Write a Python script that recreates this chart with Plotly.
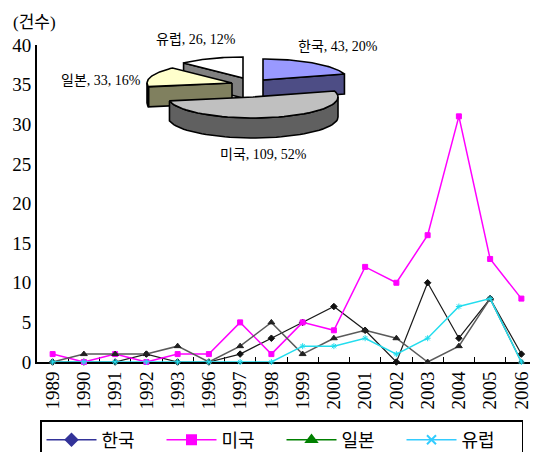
import math
import plotly.graph_objects as go

# ---------------- data ----------------
years = ["1989", "1990", "1991", "1992", "1993", "1996", "1997", "1998",
         "1999", "2000", "2001", "2002", "2003", "2004", "2005", "2006"]
korea = [0, 0, 0, 1, 0, 0, 1, 3, 5, 7, 4, 0, 10, 3, 8, 1]
usa = [1, 0, 1, 0, 1, 1, 5, 1, 5, 4, 12, 10, 16, 31, 13, 8]
japan = [0, 1, 1, 1, 2, 0, 2, 5, 1, 3, 4, 3, 0, 2, 8, 0]
europe = [0, 0, 0, 0, 0, 0, 0, 0, 2, 2, 3, 1, 3, 7, 8, 0]

series_names = ["한국", "미국", "일본", "유럽"]
pie_labels = ["한국", "미국", "일본", "유럽"]
pie_values = [43, 109, 33, 26]

# ---------------- styles ----------------
FONT = "Liberation Serif, Noto Sans CJK KR, serif"
plot_styles = {
    "한국": dict(line="#1a1a1a", lw=1.2, sym="diamond", ms=5, mc="#111111"),
    "미국": dict(line="#FF00FF", lw=1.5, sym="square", ms=5, mc="#FF00FF"),
    "일본": dict(line="#5a5a5a", lw=1.5, sym="triangle-up", ms=6, mc="#222222"),
    "유럽": dict(line="#22DDEE", lw=1.5, sym="asterisk", ms=5, mc="#22DDEE"),
}
legend_styles = {
    "한국": dict(color="#333399", sym="diamond"),
    "미국": dict(color="#FF00FF", sym="square"),
    "일본": dict(color="#008000", sym="triangle-up"),
    "유럽": dict(color="#33CCFF", sym="x-thin"),
}
top_colors = ["#9999FF", "#C0C0C0", "#FFFFCC", "#FFFFFF"]
side_colors = ["#4D4D85", "#606060", "#80805F", "#808080"]
explode = [(5, -8), (-5, 9), (-26, -5), (-15, -10)]   # pixel offsets of slices
PIE_C = (258, 88)
RX, RY, DEPTH = 85, 21, 20
LAB_RX, LAB_RY = 125, 42

# page layout (the page body adds an 8px margin around the figure)
BODY = 8
PLOT_L, PLOT_R, PLOT_T, PLOT_B = 37, 537, 45, 362   # page pixels
FIG_W, FIG_H = 538 - BODY, 452 - BODY


def to_paper(px, py):
    return ((px - PLOT_L) / (PLOT_R - PLOT_L), (PLOT_B - py) / (PLOT_B - PLOT_T))


fig = go.Figure()

# ---------------- line chart ----------------
values = {"한국": korea, "미국": usa, "일본": japan, "유럽": europe}
for name in series_names:
    s = plot_styles[name]
    fig.add_trace(go.Scatter(
        x=years, y=values[name], mode="lines+markers", name=name,
        showlegend=False, cliponaxis=False,
        line=dict(color=s["line"], width=s["lw"]),
        marker=dict(symbol=s["sym"], size=s["ms"], color=s["mc"],
                    line=dict(color=s["mc"], width=1)),
        hoverinfo="x+y+name"))

# legend-only entries (legend colours differ from the drawn lines)
for name in series_names:
    s = legend_styles[name]
    fig.add_trace(go.Scatter(
        x=[None], y=[None], mode="lines+markers", name=name,
        line=dict(color=s["color"], width=1.5),
        marker=dict(symbol=s["sym"], size=9, color=s["color"],
                    line=dict(color=s["color"], width=2))))

# ---------------- 3D-looking exploded pie ----------------
total = sum(pie_values)


def pt(cx, cy, ang, dz=0.0):
    a = math.radians(ang)
    return cx + RX * math.sin(a), cy - RY * math.cos(a) + dz


def arc(cx, cy, a0, a1, dz=0.0, n=48):
    return [pt(cx, cy, a0 + (a1 - a0) * i / n, dz) for i in range(n + 1)]


def poly(points, fill):
    xs = [p[0] for p in points] + [points[0][0]]
    ys = [p[1] for p in points] + [points[0][1]]
    fig.add_trace(go.Scatter(
        x=xs, y=ys, mode="lines", fill="toself", fillcolor=fill,
        line=dict(color="black", width=1.6), xaxis="x2", yaxis="y2",
        showlegend=False, hoverinfo="skip"))


slices = []
start = 0.0
for i, v in enumerate(pie_values):
    span = 360.0 * v / total
    slices.append((i, start, start + span))
    start += span

label_annots = []
order = sorted(slices, key=lambda s: -math.cos(math.radians((s[1] + s[2]) / 2)))
for i, a0, a1 in order:
    cx = PIE_C[0] + explode[i][0]
    cy = PIE_C[1] + explode[i][1]
    apex = (cx, cy)
    apex_b = (cx, cy + DEPTH)
    # visible radial faces
    if -math.sin(math.radians(a0)) > 1e-6:
        poly([apex, pt(cx, cy, a0), pt(cx, cy, a0, DEPTH), apex_b], side_colors[i])
    if math.sin(math.radians(a1)) > 1e-6:
        poly([apex, pt(cx, cy, a1), pt(cx, cy, a1, DEPTH), apex_b], side_colors[i])
    # visible outer band
    b0, b1 = max(a0, 90.0), min(a1, 270.0)
    if b1 > b0:
        poly(arc(cx, cy, b0, b1) + arc(cx, cy, b0, b1, DEPTH)[::-1], side_colors[i])
    # top face
    poly([apex] + arc(cx, cy, a0, a1), top_colors[i])

    mid = math.radians((a0 + a1) / 2)
    sn, cs = math.sin(mid), math.cos(mid)
    if sn < -0.8:          # label to the left of the slice
        lx, ly = cx + (RX + 8) * sn, cy - RY * cs + 4
        xa, ya = "right", "middle"
    elif sn > 0.8:
        lx, ly = cx + (RX + 8) * sn, cy - RY * cs + 4
        xa, ya = "left", "middle"
    elif cs < -0.8:        # label below the slice
        lx, ly = cx + 0.5 * RX * sn, cy - RY * cs + DEPTH + 8
        xa, ya = "center", "top"
    else:
        lx, ly = cx + LAB_RX * sn, cy - LAB_RY * cs
        xa, ya = "center", "middle"
    px_, py_ = to_paper(lx, ly)
    pct = round(100 * pie_values[i] / total)
    label_annots.append(dict(
        x=px_, y=py_, xref="paper", yref="paper", xanchor=xa, yanchor=ya,
        showarrow=False, text=f"{pie_labels[i]}, {pie_values[i]}, {pct}%",
        font=dict(size=14, color="black", family=FONT)))

tx, ty = to_paper(11, 22)
annotations = label_annots + [dict(
    x=tx, y=ty, xref="paper", yref="paper", xanchor="left", yanchor="middle",
    showarrow=False, text="(건수)", font=dict(size=17, color="black", family=FONT))]

lgx, lgy = to_paper(40, 420)

fig.update_layout(
    width=FIG_W, height=FIG_H,
    margin=dict(l=PLOT_L - BODY, r=FIG_W - (PLOT_R - BODY), t=PLOT_T - BODY,
                b=FIG_H - (PLOT_B - BODY), autoexpand=False),
    paper_bgcolor="white", plot_bgcolor="white",
    font=dict(family=FONT, color="black"),
    showlegend=True,
    annotations=annotations,
    xaxis=dict(type="category", categoryorder="array", categoryarray=years,
               range=[-0.5, len(years) - 0.5], tickangle=-90,
               tickson="boundaries", ticks="inside", ticklen=5,
               tickcolor="black", tickwidth=1, automargin=False,
               showline=True, linecolor="black", linewidth=2,
               showgrid=False, zeroline=False, layer="below traces",
               tickfont=dict(size=19, family=FONT, color="black")),
    yaxis=dict(range=[0, 40], dtick=5, showline=True, linecolor="black",
               linewidth=2, showgrid=False, zeroline=False, ticks="",
               layer="below traces", automargin=False,
               tickfont=dict(size=19, family=FONT, color="black")),
    xaxis2=dict(overlaying="x", anchor="y2", range=[PLOT_L, PLOT_R],
                visible=False, fixedrange=True),
    yaxis2=dict(overlaying="y", anchor="x2", range=[PLOT_B, PLOT_T],
                visible=False, fixedrange=True),
    legend=dict(orientation="h", x=lgx, y=lgy, xanchor="left",
                yanchor="top", bordercolor="black", borderwidth=1.5,
                bgcolor="white", itemwidth=50, entrywidth=55,
                entrywidthmode="pixels",
                font=dict(size=18, family=FONT, color="black")),
)

fig.write_html("out.html")
